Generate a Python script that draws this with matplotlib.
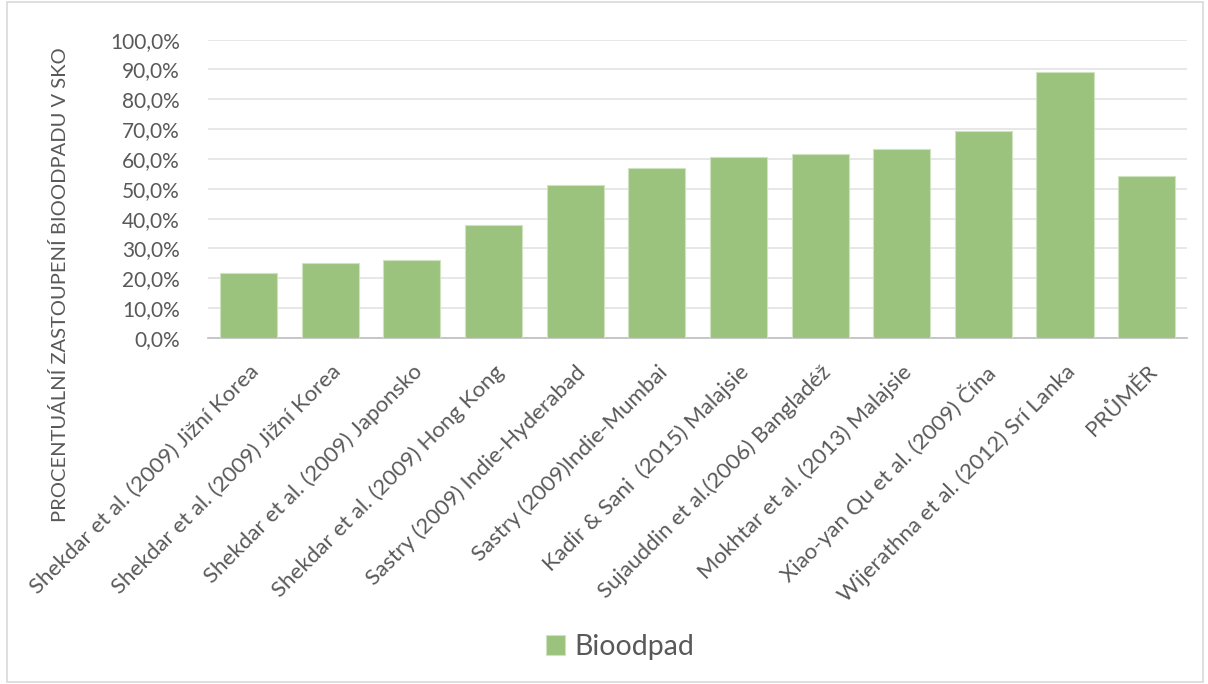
import matplotlib

matplotlib.use("Agg")

import matplotlib.pyplot as plt
from matplotlib.ticker import FuncFormatter
from matplotlib.patches import Rectangle
import numpy as np

categories = [
    "Shekdar et al. (2009) Jižní Korea",
    "Shekdar et al. (2009) Jižní Korea",
    "Shekdar et al. (2009) Japonsko",
    "Shekdar et al. (2009) Hong Kong",
    "Sastry (2009) Indie-Hyderabad",
    "Sastry (2009)Indie-Mumbai",
    "Kadir & Sani  (2015) Malajsie",
    "Sujauddin et al.(2006) Bangladéž",
    "Mokhtar et al. (2013) Malajsie",
    "Xiao-yan Qu et al. (2009) Čína",
    "Wijerathna et al. (2012) Srí Lanka",
    "PRŮMĚR",
]
bioodpad = [21.8, 25.1, 26.1, 37.9, 51.2, 56.9, 60.8, 61.8, 63.5, 69.3, 89.1, 54.2]

plt.rcParams["font.family"] = ["Lato", "DejaVu Sans"]
text_color = "#595959"

fig = plt.figure(figsize=(12.08, 6.84), dpi=100)
ax = fig.add_axes([0.172, 0.506, 0.811, 0.436])

x = np.arange(len(categories))
ax.bar(x, bioodpad, width=0.7, color="#9bc37e", edgecolor="#cfe3c0", linewidth=0.8,
       label="Bioodpad", zorder=3)

ax.set_xlim(-0.5, len(categories) - 0.5)
ax.set_ylim(0, 100)
ax.set_yticks(np.arange(0, 101, 10))
ax.yaxis.set_major_formatter(FuncFormatter(lambda v, p: f"{v:.1f}%".replace(".", ",")))
ax.grid(axis="y", color="#e3e3e3", linewidth=1.2, zorder=0)
for side in ["top", "right", "left"]:
    ax.spines[side].set_visible(False)
ax.spines["bottom"].set_color("#bfbfbf")
ax.spines["bottom"].set_linewidth(1.2)
ax.tick_params(axis="y", length=0, labelsize=15, labelcolor=text_color, pad=20)
ax.set_xticks(x)
ax.set_xticklabels(categories, rotation=45, ha="right", rotation_mode="anchor")
ax.tick_params(axis="x", length=0, labelsize=16, labelcolor=text_color, pad=17)

ax.set_ylabel("PROCENTUÁLNÍ ZASTOUPENÍ BIOODPADU V SKO", fontsize=14.5, color=text_color)
ax.yaxis.set_label_coords(-0.151, 0.178)
ax.yaxis.label.set_va("center")
ax.yaxis.label.set_ha("center")

leg = fig.legend(loc="center", bbox_to_anchor=(0.513, 0.054), frameon=False,
                 fontsize=20.5, handlelength=0.7, handleheight=0.7, handletextpad=0.3)
for t in leg.get_texts():
    t.set_color(text_color)

fig.patches.append(Rectangle((0.006, 0.003), 0.99, 0.994, transform=fig.transFigure,
                             fill=False, edgecolor="#d9d9d9", linewidth=1.2))

fig.savefig("out.png", dpi=100)
plt.close(fig)
